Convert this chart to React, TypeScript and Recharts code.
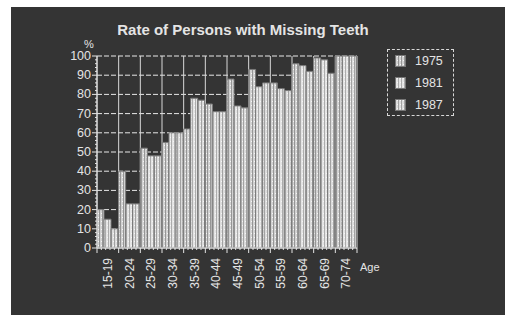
import React from 'react';
import { BarChart, Bar, XAxis, YAxis, CartesianGrid } from 'recharts';

const ages = ['15-19', '20-24', '25-29', '30-34', '35-39', '40-44', '45-49', '50-54', '55-59', '60-64', '65-69', '70-74'];
const y1975 = [20, 40, 52, 55, 62, 75, 88, 93, 86, 96, 99, 100];
const y1981 = [15, 23, 48, 60, 78, 71, 74, 84, 83, 95, 98, 100];
const y1987 = [10, 23, 48, 60, 77, 71, 73, 86, 82, 92, 91, 100];
const yTicks = [0, 10, 20, 30, 40, 50, 60, 70, 80, 90, 100];
const yRuler = Array.from({ length: 51 }, (_, i) => i * 2);

const series = [
  { key: 'y1975', name: '1975', pattern: 'p1975' },
  { key: 'y1981', name: '1981', pattern: 'p1981' },
  { key: 'y1987', name: '1987', pattern: 'p1987' },
];

const data = ages.map((age, i) => ({ age, y1975: y1975[i], y1981: y1981[i], y1987: y1987[i] }));

const FONT = '"Liberation Sans", Arial, sans-serif';
const INK = '#e4e4e4';

const YTick = (props: any) => {
  const { x, y, payload } = props;
  const major = payload.value % 10 === 0;
  return (
    <g>
      <line x1={x - (major ? 5 : 2)} x2={x} y1={y} y2={y} stroke={INK} strokeWidth={1} />
      {major && (
        <text x={x - 6} y={y} dy={4} textAnchor="end" fill={INK} fontSize={12.5} fontFamily={FONT}>
          {payload.value}
        </text>
      )}
    </g>
  );
};

// category tick: label plus a small ruler between band edges
const AgeTick = (props: any) => {
  const { x, y, payload, index } = props;
  const half = payload.offset || 0;
  const left = x - half;
  const marks = [0, 1, 2, 3, 4].map((k) => left + (k * 2 * half) / 5);
  return (
    <g>
      {marks.map((mx, k) => (
        <line key={k} x1={mx} x2={mx} y1={y} y2={y + (k === 0 ? 5 : 2)} stroke={INK} strokeWidth={1} />
      ))}
      {index === ages.length - 1 && <line x1={x + half} x2={x + half} y1={y} y2={y + 5} stroke={INK} strokeWidth={1} />}
      <text
        x={x}
        y={y + 10}
        dy={4}
        textAnchor="end"
        transform={`rotate(-90, ${x}, ${y + 10})`}
        fill={INK}
        fontSize={12}
        fontFamily={FONT}
      >
        {payload.value}
      </text>
    </g>
  );
};

const patternDefs = [
  ['p1975', '#d2d2d2', '#969696'],
  ['p1981', '#e4e4e4', '#acacac'],
  ['p1987', '#dcdcdc', '#a2a2a2'],
];

function Patterns({ suffix }: { suffix: string }) {
  return (
    <>
      {patternDefs.map(([id, bg, line]) => (
        <pattern key={id} id={id + suffix} width={3} height={4} patternUnits="userSpaceOnUse">
          <rect width={3} height={4} fill={bg} />
          <rect x={0} width={1} height={4} fill={line} />
          <rect x={2} y={1} width={1} height={1} fill="#f6f6f6" />
        </pattern>
      ))}
    </>
  );
}

const Swatch = ({ pattern }: { pattern: string }) => (
  <svg width={11} height={12} style={{ display: 'block' }}>
    <defs>
      <Patterns suffix={'s' + pattern} />
    </defs>
    <rect x={0.5} y={0.5} width={10} height={11} fill={`url(#${pattern}s${pattern})`} stroke="#777" />
  </svg>
);

const bandEdges = ({ offset }: any) =>
  [...ages, ''].map((_, i) => offset.left + (i * offset.width) / ages.length);

export default function App() {
  return (
    <div style={{ position: 'absolute', left: 0, top: 0, width: 505, height: 315, background: '#ffffff', overflow: 'hidden', fontFamily: FONT }}>
      <div style={{ position: 'absolute', left: 11, top: 7, width: 494, height: 308, background: '#343434' }} />
      <div style={{ position: 'absolute', left: 0, top: 0 }}>
        <BarChart
          width={505}
          height={315}
          data={data}
          margin={{ top: 56, right: 148, bottom: 27, left: 67 }}
          barCategoryGap={0}
          barGap={0}
        >
          <defs>
            <Patterns suffix="" />
          </defs>
          <XAxis dataKey="age" height={40} axisLine={{ stroke: INK }} tickLine={false} tickSize={0} tickMargin={0} tick={<AgeTick />} interval={0} />
          <YAxis domain={[0, 100]} ticks={yRuler} width={30} axisLine={{ stroke: INK }} tickLine={false} tickSize={0} tickMargin={0} tick={<YTick />} interval={0} />
          <CartesianGrid vertical={false} horizontalValues={yTicks} stroke="#e8e8e8" strokeDasharray="5 2" />
          <CartesianGrid horizontal={false} verticalCoordinatesGenerator={bandEdges} stroke="#d8d8d8" />
          {series.map((s) => (
            <Bar
              key={s.key}
              dataKey={s.key}
              name={s.name}
              fill={`url(#${s.pattern})`}
              stroke="#7a7a7a"
              strokeWidth={1}
              isAnimationActive={false}
            />
          ))}
        </BarChart>
      </div>
      <div style={{ position: 'absolute', left: 0, width: 486, top: 21, textAlign: 'center', color: INK, fontSize: 15, fontWeight: 'bold' }}>
        Rate of Persons with Missing Teeth
      </div>
      <div style={{ position: 'absolute', left: 84, top: 38, color: INK, fontSize: 11 }}>%</div>
      <div style={{ position: 'absolute', left: 360, top: 261, color: INK, fontSize: 11 }}>Age</div>
      <div style={{ position: 'absolute', left: 387, top: 49, width: 65, height: 65, border: '1px dashed #d8d8d8' }}>
        {series.map((s, i) => (
          <div key={s.key} style={{ position: 'absolute', left: 7, top: 4 + i * 22, display: 'flex', alignItems: 'center', height: 14 }}>
            <Swatch pattern={s.pattern} />
            <span style={{ marginLeft: 9, color: INK, fontSize: 12.5 }}>{s.name}</span>
          </div>
        ))}
      </div>
    </div>
  );
}
